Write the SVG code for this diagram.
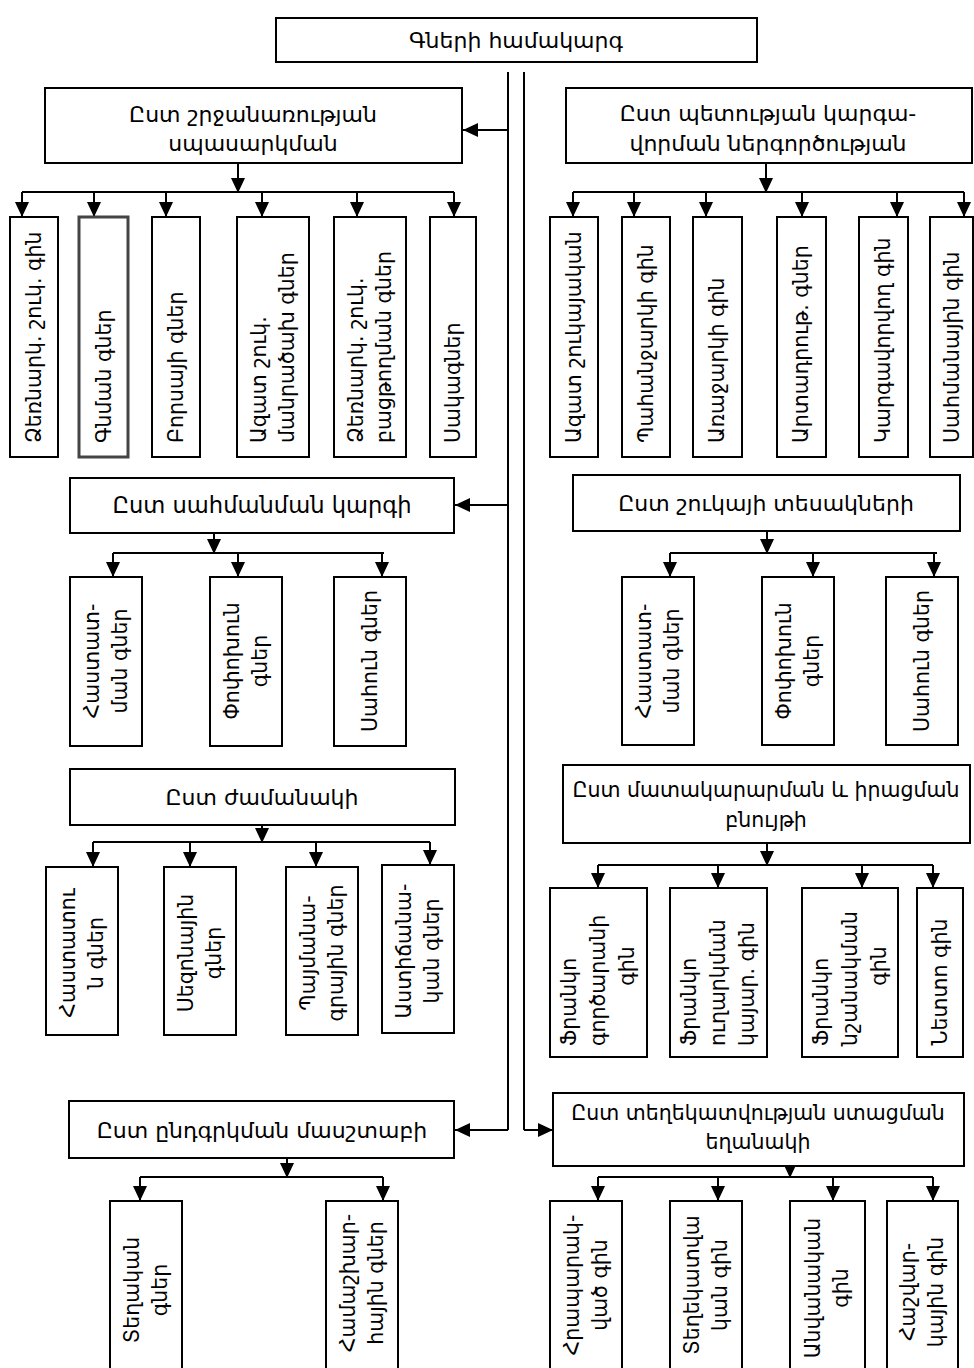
<svg xmlns="http://www.w3.org/2000/svg" width="974" height="1368" viewBox="0 0 974 1368">
<style>
.box{fill:#fff;stroke:#000;stroke-width:2}
.box2{fill:#fff;stroke:#444;stroke-width:3}
.t{font-family:"DejaVu Sans",sans-serif;font-size:22px;fill:#000;text-anchor:middle;dominant-baseline:central}
.r{font-size:20.5px}
.sm{font-size:20.5px}
.s{text-anchor:start}
.ln{stroke:#000;stroke-width:2;fill:none}
.a{stroke:#000;stroke-width:2;fill:none;marker-end:url(#ah)}
</style>
<defs>
<marker id="ah" markerUnits="userSpaceOnUse" markerWidth="15" markerHeight="15" refX="15" refY="7" orient="auto"><path d="M0,0 L15,7 L0,14 z" fill="#000"/></marker>
</defs>
<rect width="974" height="1368" fill="#fff"/>

<g id="connectors">
<line class="ln" x1="508" y1="72" x2="508" y2="1130"/>
<line class="ln" x1="524" y1="72" x2="524" y2="1130"/>
<line class="a" x1="508" y1="130" x2="463" y2="130"/>
<line class="a" x1="508" y1="505" x2="455" y2="505"/>
<line class="a" x1="508" y1="1130" x2="455" y2="1130"/>
<line class="a" x1="524" y1="1130" x2="553" y2="1130"/>
<line class="a" x1="238" y1="163" x2="238" y2="193"/>
<line class="ln" x1="22" y1="192" x2="454" y2="192"/>
<line class="a" x1="22" y1="192" x2="22" y2="217"/>
<line class="a" x1="94" y1="192" x2="94" y2="217"/>
<line class="a" x1="166" y1="192" x2="166" y2="217"/>
<line class="a" x1="262" y1="192" x2="262" y2="217"/>
<line class="a" x1="357" y1="192" x2="357" y2="217"/>
<line class="a" x1="454" y1="192" x2="454" y2="217"/>
<line class="a" x1="766" y1="163" x2="766" y2="193"/>
<line class="ln" x1="573" y1="192" x2="964" y2="192"/>
<line class="a" x1="573" y1="192" x2="573" y2="217"/>
<line class="a" x1="634" y1="192" x2="634" y2="217"/>
<line class="a" x1="706" y1="192" x2="706" y2="217"/>
<line class="a" x1="802" y1="192" x2="802" y2="217"/>
<line class="a" x1="897" y1="192" x2="897" y2="217"/>
<line class="a" x1="964" y1="192" x2="964" y2="217"/>
<line class="a" x1="214" y1="533" x2="214" y2="554"/>
<line class="ln" x1="113" y1="553" x2="384" y2="553"/>
<line class="a" x1="113" y1="553" x2="113" y2="577"/>
<line class="a" x1="238" y1="553" x2="238" y2="577"/>
<line class="a" x1="382" y1="553" x2="382" y2="577"/>
<line class="a" x1="767" y1="531" x2="767" y2="554"/>
<line class="ln" x1="670" y1="553" x2="937" y2="553"/>
<line class="a" x1="670" y1="553" x2="670" y2="577"/>
<line class="a" x1="813" y1="553" x2="813" y2="577"/>
<line class="a" x1="934" y1="553" x2="934" y2="577"/>
<line class="a" x1="262" y1="825" x2="262" y2="843"/>
<line class="ln" x1="93" y1="842" x2="430" y2="842"/>
<line class="a" x1="93" y1="842" x2="93" y2="867"/>
<line class="a" x1="190" y1="842" x2="190" y2="867"/>
<line class="a" x1="316" y1="842" x2="316" y2="867"/>
<line class="a" x1="430" y1="842" x2="430" y2="865"/>
<line class="a" x1="767" y1="843" x2="767" y2="866"/>
<line class="ln" x1="598" y1="865" x2="933" y2="865"/>
<line class="a" x1="598" y1="865" x2="598" y2="888"/>
<line class="a" x1="718" y1="865" x2="718" y2="888"/>
<line class="a" x1="862" y1="865" x2="862" y2="888"/>
<line class="a" x1="933" y1="865" x2="933" y2="888"/>
<line class="a" x1="287" y1="1158" x2="287" y2="1178"/>
<line class="ln" x1="140" y1="1177" x2="383" y2="1177"/>
<line class="a" x1="140" y1="1177" x2="140" y2="1201"/>
<line class="a" x1="383" y1="1177" x2="383" y2="1201"/>
<line class="a" x1="790" y1="1150" x2="790" y2="1178"/>
<line class="ln" x1="598" y1="1177" x2="933" y2="1177"/>
<line class="a" x1="598" y1="1177" x2="598" y2="1201"/>
<line class="a" x1="718" y1="1177" x2="718" y2="1201"/>
<line class="a" x1="833" y1="1177" x2="833" y2="1201"/>
<line class="a" x1="933" y1="1177" x2="933" y2="1201"/>
</g>

<g id="root"><rect class="box" x="276" y="18" width="481" height="44"/><text class="t" x="516" y="40">Գների համակարգ</text></g>

<g id="h-l1"><rect class="box" x="45" y="88" width="417" height="75"/><text class="t"><tspan x="253" y="114">Ըստ շրջանառության</tspan><tspan x="253" y="143">սպասարկման</tspan></text></g>
<g id="h-r1"><rect class="box" x="566" y="88" width="406" height="75"/><text class="t"><tspan x="768" y="113">Ըստ պետության կարգա-</tspan><tspan x="768" y="143">վորման ներգործության</tspan></text></g>
<g id="h-l2"><rect class="box" x="70" y="478" width="384" height="55"/><text class="t" x="262" y="505" style="font-size:22.6px">Ըստ սահմանման կարգի</text></g>
<g id="h-r2"><rect class="box" x="573" y="475" width="387" height="56"/><text class="t" x="766" y="503">Ըստ շուկայի տեսակների</text></g>
<g id="h-l3"><rect class="box" x="70" y="769" width="385" height="56"/><text class="t" x="262" y="797">Ըստ ժամանակի</text></g>
<g id="h-r3"><rect class="box" x="563" y="765" width="407" height="78"/><text class="t sm"><tspan x="766" y="790">Ըստ մատակարարման և իրացման</tspan><tspan x="766" y="820">բնույթի</tspan></text></g>
<g id="h-l4"><rect class="box" x="69" y="1101" width="385" height="57"/><text class="t" x="262" y="1130">Ըստ ընդգրկման մասշտաբի</text></g>
<g id="h-r4"><rect class="box" x="553" y="1093" width="411" height="73"/><text class="t sm"><tspan x="758" y="1113">Ըստ տեղեկատվության ստացման</tspan><tspan x="758" y="1142">եղանակի</tspan></text></g>

<g id="l1-1"><rect class="box" x="10" y="217" width="48" height="240"/><text class="t r s" transform="translate(34,443) rotate(-90)">Ձեռնարկ. շուկ. գին</text></g>
<g id="l1-2"><rect class="box2" x="79" y="217" width="49" height="240"/><text class="t r s" transform="translate(104,443) rotate(-90)">Գնման գներ</text></g>
<g id="l1-3"><rect class="box" x="152" y="217" width="48" height="240"/><text class="t r s" transform="translate(176,443) rotate(-90)">Բորսայի գներ</text></g>
<g id="l1-4"><rect class="box" x="237" y="217" width="72" height="240"/><text class="t r s" transform="translate(273,443) rotate(-90)"><tspan x="0" y="-14">Ազատ շուկ.</tspan><tspan x="0" y="14">մանրածախ գներ</tspan></text></g>
<g id="l1-5"><rect class="box" x="334" y="217" width="72" height="240"/><text class="t r s" transform="translate(370,443) rotate(-90)"><tspan x="0" y="-14">Ձեռնարկ. շուկ.</tspan><tspan x="0" y="14">բացթողման գներ</tspan></text></g>
<g id="l1-6"><rect class="box" x="430" y="217" width="46" height="240"/><text class="t r s" transform="translate(453,443) rotate(-90)">Սակագներ</text></g>

<g id="r1-1"><rect class="box" x="550" y="217" width="48" height="240"/><text class="t r s" transform="translate(574,443) rotate(-90)">Ազատ շուկայական</text></g>
<g id="r1-2"><rect class="box" x="622" y="217" width="48" height="240"/><text class="t r s" transform="translate(646,443) rotate(-90)">Պահանջարկի գին</text></g>
<g id="r1-3"><rect class="box" x="693" y="217" width="49" height="240"/><text class="t r s" transform="translate(717,443) rotate(-90)">Առաջարկի գին</text></g>
<g id="r1-4"><rect class="box" x="777" y="217" width="49" height="240"/><text class="t r s" transform="translate(801,443) rotate(-90)">Արտադրութ. գներ</text></g>
<g id="r1-5"><rect class="box" x="859" y="217" width="49" height="240"/><text class="t r s" transform="translate(883,443) rotate(-90)">Կարգավորվող  գին</text></g>
<g id="r1-6"><rect class="box" x="930" y="217" width="43" height="240"/><text class="t r s" transform="translate(952,443) rotate(-90)">Սահմանային գին</text></g>

<g id="l2-1"><rect class="box" x="70" y="577" width="72" height="169"/><text class="t r" transform="translate(106,661) rotate(-90)"><tspan x="0" y="-14">Հաստատ-</tspan><tspan x="0" y="14">ման գներ</tspan></text></g>
<g id="l2-2"><rect class="box" x="210" y="577" width="72" height="169"/><text class="t r" transform="translate(246,661) rotate(-90)"><tspan x="0" y="-14">Փոփոխուն</tspan><tspan x="0" y="14">գներ</tspan></text></g>
<g id="l2-3"><rect class="box" x="334" y="577" width="72" height="169"/><text class="t r" transform="translate(370,661) rotate(-90)">Սահուն գներ</text></g>

<g id="r2-1"><rect class="box" x="622" y="577" width="72" height="168"/><text class="t r" transform="translate(658,661) rotate(-90)"><tspan x="0" y="-14">Հաստատ-</tspan><tspan x="0" y="14">ման գներ</tspan></text></g>
<g id="r2-2"><rect class="box" x="762" y="577" width="72" height="168"/><text class="t r" transform="translate(798,661) rotate(-90)"><tspan x="0" y="-14">Փոփոխուն</tspan><tspan x="0" y="14">գներ</tspan></text></g>
<g id="r2-3"><rect class="box" x="886" y="577" width="72" height="168"/><text class="t r" transform="translate(922,661) rotate(-90)">Սահուն գներ</text></g>

<g id="l3-1"><rect class="box" x="46" y="867" width="72" height="168"/><text class="t r" transform="translate(82,953) rotate(-90)"><tspan x="0" y="-14">Հաստատու</tspan><tspan x="0" y="14">ն գներ</tspan></text></g>
<g id="l3-2"><rect class="box" x="164" y="867" width="72" height="168"/><text class="t r" transform="translate(200,953) rotate(-90)"><tspan x="0" y="-14">Սեզոնային</tspan><tspan x="0" y="14">գներ</tspan></text></g>
<g id="l3-3"><rect class="box" x="286" y="867" width="72" height="168"/><text class="t r" transform="translate(322,953) rotate(-90)"><tspan x="0" y="-14">Պայմանա-</tspan><tspan x="0" y="14">գրային գներ</tspan></text></g>
<g id="l3-4"><rect class="box" x="382" y="865" width="72" height="168"/><text class="t r" transform="translate(418,951) rotate(-90)"><tspan x="0" y="-14">Աստիճանա-</tspan><tspan x="0" y="14">կան գներ</tspan></text></g>

<g id="r3-1"><rect class="box" x="550" y="888" width="97" height="169"/><text class="t r" transform="translate(598,0) rotate(-90)"><tspan class="s" x="-1046" y="-29">Ֆրանկո</tspan><tspan class="s" x="-1046" y="0">գործարանի</tspan><tspan x="-966" y="29">գին</tspan></text></g>
<g id="r3-2"><rect class="box" x="670" y="888" width="97" height="169"/><text class="t r" transform="translate(718,0) rotate(-90)"><tspan class="s" x="-1046" y="-29">Ֆրանկո</tspan><tspan class="s" x="-1046" y="0">ուղարկման</tspan><tspan class="s" x="-1046" y="29">կայար. գին</tspan></text></g>
<g id="r3-3"><rect class="box" x="802" y="888" width="96" height="169"/><text class="t r" transform="translate(850,0) rotate(-90)"><tspan class="s" x="-1046" y="-29">Ֆրանկո</tspan><tspan class="s" x="-1046" y="0">նշանակման</tspan><tspan x="-966" y="29">գին</tspan></text></g>
<g id="r3-4"><rect class="box" x="917" y="888" width="46" height="169"/><text class="t r" transform="translate(940,982) rotate(-90)">Նետտո գին</text></g>

<g id="l4-1"><rect class="box" x="110" y="1201" width="72" height="200"/><text class="t r" transform="translate(146,1290) rotate(-90)"><tspan x="0" y="-14">Տեղական</tspan><tspan x="0" y="14">գներ</tspan></text></g>
<g id="l4-2"><rect class="box" x="326" y="1201" width="72" height="200"/><text class="t r" transform="translate(362,1283) rotate(-90)"><tspan x="0" y="-14">Համաշխար-</tspan><tspan x="0" y="14">հային գներ</tspan></text></g>

<g id="r4-1"><rect class="box" x="550" y="1201" width="72" height="200"/><text class="t r" transform="translate(586,1285) rotate(-90)"><tspan x="0" y="-14">Հրապարակ-</tspan><tspan x="0" y="14">ված գին</tspan></text></g>
<g id="r4-2"><rect class="box" x="670" y="1201" width="72" height="200"/><text class="t r" transform="translate(706,1285) rotate(-90)"><tspan x="0" y="-14">Տեղեկատվա</tspan><tspan x="0" y="14">կան գին</tspan></text></g>
<g id="r4-3"><rect class="box" x="790" y="1201" width="75" height="200"/><text class="t r" transform="translate(827,1288) rotate(-90)"><tspan x="0" y="-14">Անվանական</tspan><tspan x="0" y="14">գին</tspan></text></g>
<g id="r4-4"><rect class="box" x="887" y="1201" width="71" height="200"/><text class="t r" transform="translate(922,1292) rotate(-90)"><tspan x="0" y="-14">Հաշվար-</tspan><tspan x="0" y="14">կային  գին</tspan></text></g>
</svg>
